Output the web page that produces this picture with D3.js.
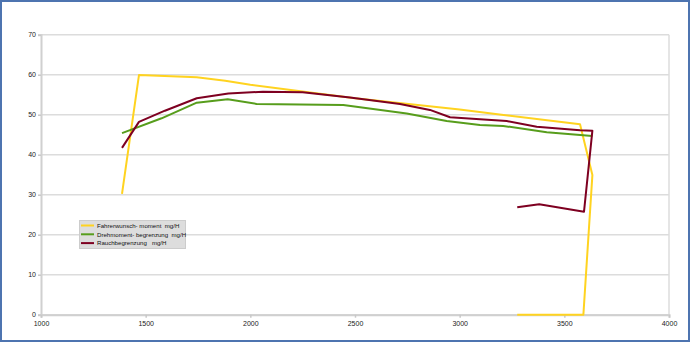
<!DOCTYPE html>
<html><head><meta charset="utf-8">
<script src="https://cdn.jsdelivr.net/npm/d3@7"></script>
<style>body{margin:0;background:#fff}svg{display:block}</style>
</head><body><svg id="c" width="690" height="342"></svg>
<script>
const seriesNames = ["Fahrerwunsch- moment  mg/H", "Drehmoment- begrenzung  mg/H", "Rauchbegrenzung   mg/H"];
const seriesColors = ["#ffd320", "#579d1c", "#7e0021"];
const yellowX = [1387, 1468, 1744, 1880, 2000, 2500, 3000, 3200, 3575, 3634, 3591, 3275];
const yellowY = [30.2, 59.9, 59.35, 58.5, 57.5, 54.1, 51.3, 50.0, 47.6, 34.9, 0, 0];
const greenX = [1387, 1576, 1744, 1892, 2030, 2444, 2747, 2938, 3097, 3208, 3416, 3634];
const greenY = [45.4, 49.1, 53.0, 53.85, 52.7, 52.4, 50.3, 48.4, 47.4, 47.2, 45.6, 44.7];
const redX = [1387, 1468, 1592, 1744, 1895, 2060, 2250, 2476, 2715, 2858, 2954, 3097, 3225, 3368, 3575, 3634, 3594, 3380, 3275];
const redY = [41.7, 48.2, 51.0, 54.1, 55.3, 55.75, 55.6, 54.3, 52.7, 51.2, 49.35, 48.85, 48.4, 47.0, 46.1, 46.0, 25.75, 27.6, 26.85];
const xTicks = [1000, 1500, 2000, 2500, 3000, 3500, 4000];
const yTicks = [0, 10, 20, 30, 40, 50, 60, 70];

const svg = d3.select("#c");
const x = d3.scaleLinear().domain([1000, 4000]).range([41, 669]);
const y = d3.scaleLinear().domain([0, 70]).range([314.7, 34.7]);
const font = "'Liberation Sans', Arial, sans-serif";

// frame
svg.append("rect").attr("x", 1).attr("y", 1).attr("width", 688).attr("height", 340)
  .attr("fill", "#fff").attr("stroke", "#4d74b0").attr("stroke-width", 2);

// grid
svg.append("g").selectAll("line").data(yTicks).join("line")
  .attr("x1", x(1000)).attr("x2", x(4000))
  .attr("y1", d => y(d)).attr("y2", d => y(d))
  .attr("stroke", "#dcdcdc").attr("stroke-width", 1.5);
svg.append("line").attr("x1", x(4000)).attr("x2", x(4000)).attr("y1", y(70)).attr("y2", y(0))
  .attr("stroke", "#dcdcdc").attr("stroke-width", 1.5);

// axes
const yAxis = d3.axisLeft(y).tickValues(yTicks).tickSize(3).tickPadding(2);
const gy = svg.append("g").attr("transform", `translate(${x(1000)},0)`).call(yAxis);
const xAxis = d3.axisBottom(x).tickValues(xTicks).tickSize(3).tickPadding(3).tickFormat(d3.format("d"));
const gx = svg.append("g").attr("transform", `translate(0,${y(0)})`).call(xAxis);
[gy, gx].forEach(g => {
  g.select(".domain").attr("stroke", "#d0d0d0").attr("stroke-width", 2);
  g.selectAll(".tick line").attr("stroke", "#c8c8c8").attr("stroke-width", 1.5);
  g.selectAll("text").attr("font-family", font).attr("font-size", 7).attr("fill", "#222");
});

// lines
const line = d3.line().x(d => x(d[0])).y(d => y(d[1]));
const series = [
  d3.zip(yellowX, yellowY),
  d3.zip(greenX, greenY),
  d3.zip(redX, redY)
];
series.forEach((s, i) => {
  svg.append("path").datum(s).attr("d", line).attr("fill", "none")
    .attr("stroke", seriesColors[i]).attr("stroke-width", 2).attr("stroke-linejoin", "round");
});

// legend
const lg = svg.append("g");
lg.append("rect").attr("x", 79.5).attr("y", 220.5).attr("width", 106).attr("height", 28)
  .attr("fill", "#dddddd").attr("stroke", "#cccccc");
seriesNames.forEach((n, i) => {
  const yy = 225.5 + i * 8.8;
  lg.append("line").attr("x1", 81).attr("x2", 94).attr("y1", yy).attr("y2", yy)
    .attr("stroke", seriesColors[i]).attr("stroke-width", 2);
  lg.append("text").attr("x", 97).attr("y", yy + 2.2).text(n)
    .attr("font-family", font).attr("font-size", 6.1).attr("fill", "#111")
    .style("white-space", "pre");
});
</script></body></html>
